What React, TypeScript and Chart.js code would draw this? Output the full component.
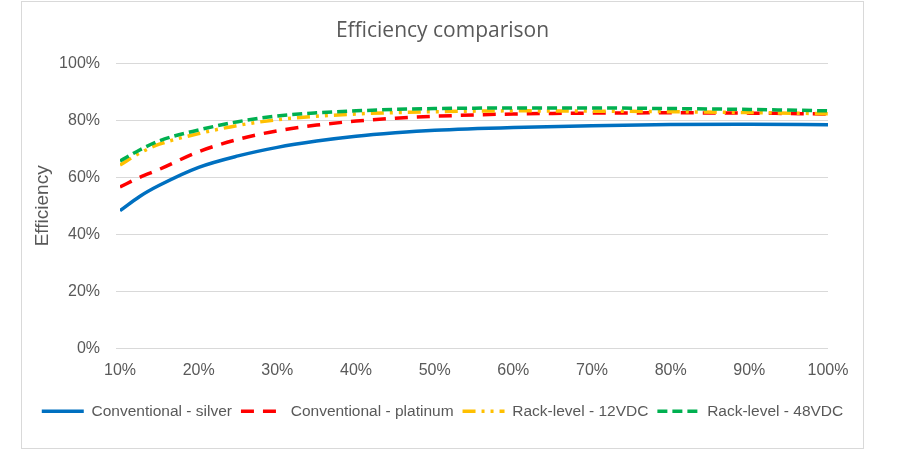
import React, { useEffect, useRef } from "react";
import { Chart, registerables } from "chart.js";

Chart.register(...registerables);

const loadPct = [10, 12.5, 15, 20, 25, 30, 35, 40, 45, 50, 60, 70, 80, 90, 100];
const silver = [48.3, 53.3, 57.2, 63.5, 67.5, 70.5, 72.7, 74.4, 75.6, 76.5, 77.5, 78.1, 78.5, 78.6, 78.4];
const platinum = [56.6, 60.0, 62.8, 69.0, 73.3, 76.3, 78.3, 79.7, 80.7, 81.4, 82.2, 82.5, 82.6, 82.5, 82.2];
const rack12 = [64.3, 68.5, 71.6, 75.3, 78.2, 80.2, 81.4, 82.2, 82.7, 83.0, 83.3, 83.2, 83.0, 82.7, 82.3];
const rack48 = [65.7, 69.6, 72.8, 76.6, 79.5, 81.5, 82.6, 83.3, 83.8, 84.1, 84.3, 84.3, 84.1, 83.8, 83.3];
const seriesNames = [
  "Conventional - silver",
  "Conventional - platinum",
  "Rack-level - 12VDC",
  "Rack-level - 48VDC",
];
const xTicks = [10, 20, 30, 40, 50, 60, 70, 80, 90, 100];
const yTicks = [0, 20, 40, 60, 80, 100];

const TEXT = "#595959";
const GRID = "#d9d9d9";

function pts(vals: number[]) {
  return vals.map((v, i) => ({ x: loadPct[i], y: v }));
}

export default function App() {
  const ref = useRef<HTMLCanvasElement | null>(null);
  useEffect(() => {
    if (!ref.current) return;
    Chart.defaults.font.family = "'Liberation Sans', Arial, sans-serif";
    const common = {
      pointRadius: 0,
      borderWidth: 3.5,
      cubicInterpolationMode: "monotone" as const,
      fill: false,
      borderCapStyle: "butt" as const,
    };
    const defaultLabels = Chart.defaults.plugins.legend.labels.generateLabels;
    const chart = new Chart(ref.current, {
      type: "line",
      data: {
        datasets: [
          { ...common, label: seriesNames[0], data: pts(silver), borderColor: "#0070C0", backgroundColor: "#0070C0", borderDash: [], order: 4 },
          { ...common, label: seriesNames[1], data: pts(platinum), borderColor: "#FF0000", backgroundColor: "#FF0000", borderDash: [13, 9], order: 3 },
          { ...common, label: seriesNames[2], data: pts(rack12), borderColor: "#FFC000", backgroundColor: "#FFC000", borderDash: [13, 6, 3, 6, 3, 6], order: 2 },
          { ...common, label: seriesNames[3], data: pts(rack48), borderColor: "#00B050", backgroundColor: "#00B050", borderDash: [10, 5], order: 1 },
        ],
      },
      options: {
        animation: false,
        responsive: true,
        maintainAspectRatio: false,
        layout: { padding: { left: 0, right: 0, top: 0, bottom: 19 } },
        plugins: {
          title: {
            display: true,
            text: "Efficiency comparison",
            color: TEXT,
            font: { family: "'Open Sans', sans-serif", size: 21, weight: "normal" },
            padding: { top: 16, bottom: 20 },
          },
          legend: {
            position: "bottom",
            labels: {
              usePointStyle: true,
              pointStyle: "line",
              pointStyleWidth: 42,
              color: TEXT,
              font: { size: 15.5 },
              padding: 9,
              sort: (a: any, b: any) => a.datasetIndex - b.datasetIndex,
              generateLabels: (c: any) => {
                const items = defaultLabels(c);
                items.forEach((it: any) => {
                  const ds = c.data.datasets[it.datasetIndex];
                  it.lineDash = ds.borderDash || [];
                  it.lineWidth = 3.5;
                  it.lineCap = "butt";
                  it.strokeStyle = ds.borderColor;
                });
                return items;
              },
            },
          },
          tooltip: { enabled: false },
        },
        scales: {
          x: {
            type: "linear",
            min: 10,
            max: 100,
            afterBuildTicks: (s: any) => {
              s.ticks = xTicks.map((v) => ({ value: v }));
            },
            afterFit: (s: any) => {
              s.height = 46;
            },
            ticks: {
              color: TEXT,
              font: { size: 16 },
              padding: 12,
              callback: (v: any) => v + "%",
            },
            grid: { display: false, drawTicks: false },
            border: { display: false },
          },
          y: {
            min: 0,
            max: 100,
            afterBuildTicks: (s: any) => {
              s.ticks = yTicks.map((v) => ({ value: v }));
            },
            afterFit: (s: any) => {
              s.width = 98;
            },
            ticks: {
              color: TEXT,
              font: { size: 16 },
              padding: 16,
              callback: (v: any) => v + "%",
            },
            grid: { color: GRID, lineWidth: 1, drawTicks: true, tickLength: 4, tickColor: GRID },
            border: { display: false },
            title: {
              display: true,
              text: "Efficiency",
              color: TEXT,
              font: { size: 19 },
              padding: { top: 9, bottom: 4 },
            },
          },
          yR: {
            type: "linear",
            position: "right",
            display: true,
            afterFit: (s: any) => {
              s.width = 35;
            },
            ticks: { display: false },
            grid: { display: false, drawTicks: false },
            border: { display: false },
          },
        },
      },
    });
    return () => chart.destroy();
  }, []);
  return (
    <div
      style={{
        position: "absolute",
        left: 21,
        top: 1,
        width: 843,
        height: 448,
        boxSizing: "border-box",
        border: "1px solid #d9d9d9",
        background: "#fff",
      }}
    >
      <div style={{ position: "relative", width: "100%", height: "100%" }}>
        <canvas ref={ref} />
      </div>
    </div>
  );
}
